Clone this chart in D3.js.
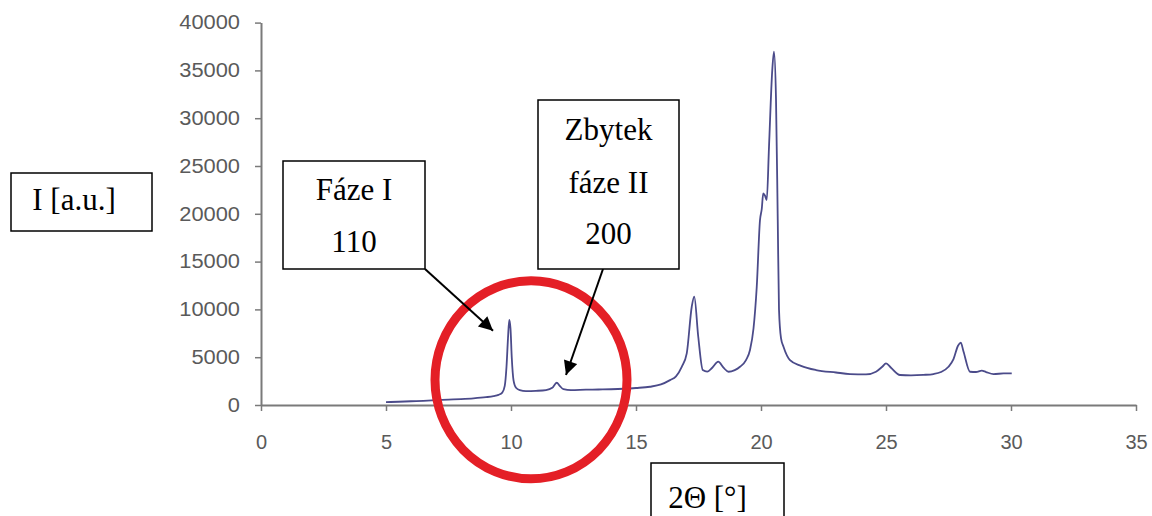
<!DOCTYPE html>
<html>
<head>
<meta charset="utf-8">
<script src="https://cdn.jsdelivr.net/npm/d3@7"></script>
<style>
  html, body { margin: 0; padding: 0; background: #fff; }
  svg { display: block; }
  .tick text { font-family: "Liberation Sans", Arial, sans-serif; fill: #5a5a5a; }
  .note { font-family: "Liberation Serif", "Times New Roman", serif; font-size: 31px; fill: #000; }
</style>
</head>
<body>
<svg id="chart" width="1152" height="516"></svg>
<script>
// Diffraction pattern: 2θ (degrees) and intensity (a.u.)
const twoTheta = [
  5.0, 5.5, 6.0, 6.5, 7.0, 7.5, 8.0, 8.5, 9.0, 9.3, 9.5, 9.65, 9.75, 9.82, 9.88, 9.93, 9.98,
  10.03, 10.1, 10.2, 10.35, 10.6, 11.0, 11.4, 11.65, 11.83, 11.95, 12.1, 12.4, 13.0, 13.5,
  14.0, 14.5, 15.0, 15.56, 16.0, 16.36, 16.6, 16.83, 17.03, 17.23, 17.33, 17.49, 17.67,
  17.85, 18.05, 18.29, 18.5, 18.7, 18.95, 19.16, 19.4, 19.56, 19.7, 19.83, 19.96, 20.03,
  20.09, 20.16, 20.23, 20.32, 20.45, 20.52, 20.6, 20.67, 20.72, 20.8, 20.9, 21.16, 21.6,
  22.2, 23.0, 23.56, 24.2, 24.6, 24.85, 25.0, 25.2, 25.56, 26.0, 26.5, 26.9, 27.2, 27.5,
  27.7, 27.88, 27.99, 28.1, 28.36, 28.6, 28.83, 29.0, 29.3, 29.7, 30.03
];
const intensity = [
  300, 340, 390, 440, 500, 560, 620, 700, 820, 930, 1060, 1300, 2000, 4000, 7000, 8900, 8000,
  5000, 2600, 1800, 1550, 1450, 1480, 1560, 1800, 2330, 2000, 1650, 1550, 1600, 1620,
  1650, 1700, 1780, 1910, 2150, 2600, 3000, 4000, 5400, 10280, 11330, 7140, 3660,
  3500, 3900, 4530, 3900, 3480, 3650, 4000, 4700, 5750, 8000, 12370, 19350, 20500,
  22140, 21900, 21440, 27000, 35000, 36950, 32000, 19350, 10000, 7000, 6100, 4700, 4100,
  3660, 3400, 3240, 3200, 3480, 4000, 4350, 3900, 3140, 3100, 3150, 3240, 3450, 4000,
  4800, 6200, 6520, 5600, 3480, 3450, 3590, 3450, 3240, 3300, 3310
];

const xTicks = [0, 5, 10, 15, 20, 25, 30, 35];
const yTicks = [0, 5000, 10000, 15000, 20000, 25000, 30000, 35000, 40000];

// Note texts, one array of lines per box
const noteLines = [["I [a.u.]"], ["Fáze I", "110"], ["Zbytek", "fáze II", "200"], ["2Θ [°]"]];

const svg = d3.select("#chart");

const x = d3.scaleLinear().domain([0, 35]).range([261, 1136]);
const y = d3.scaleLinear().domain([0, 40000]).range([405, 22.6]);

// Axes
const yAxis = svg.append("g")
  .attr("transform", `translate(${x(0)},0)`)
  .call(d3.axisLeft(y).tickValues(yTicks).tickSize(6).tickSizeOuter(0).tickPadding(15).tickFormat(d3.format("d")));
yAxis.selectAll("text").style("font-size", "19.5px").each(function () {
  const w = this.getComputedTextLength();
  d3.select(this).attr("textLength", w * 1.12).attr("lengthAdjust", "spacingAndGlyphs");
});

const xAxis = svg.append("g")
  .attr("transform", `translate(0,${y(0)})`)
  .call(d3.axisBottom(x).tickValues(xTicks).tickSize(6).tickSizeOuter(0).tickPadding(24).tickFormat(d3.format("d")));
xAxis.selectAll("text").style("font-size", "20px");

svg.selectAll(".domain").attr("stroke", "#7a7a7a").attr("stroke-width", 2);
svg.selectAll(".tick line").attr("stroke", "#7a7a7a").attr("stroke-width", 1.5);

// Pattern line
const line = d3.line().x((d, i) => x(twoTheta[i])).y(d => y(d)).curve(d3.curveMonotoneX);
svg.append("path")
  .datum(intensity)
  .attr("d", line)
  .attr("fill", "none")
  .attr("stroke", "#4b4b8a")
  .attr("stroke-width", 1.8)
  .attr("stroke-linejoin", "round");

// Red circle around the low-angle reflections
svg.append("ellipse")
  .attr("cx", x(10.8)).attr("cy", y(2640))
  .attr("rx", 96).attr("ry", 99)
  .attr("fill", "none")
  .attr("stroke", "#e41f26")
  .attr("stroke-width", 9);

// Arrowhead
svg.append("defs").append("marker")
  .attr("id", "head")
  .attr("viewBox", "0 0 10 10")
  .attr("refX", 10).attr("refY", 5)
  .attr("markerWidth", 8).attr("markerHeight", 7)
  .attr("markerUnits", "strokeWidth")
  .attr("orient", "auto")
  .append("path").attr("d", "M0,0 L10,5 L0,10 Z").attr("fill", "#000");

// Arrows from the notes towards the two reflections (tips in data units)
const arrows = [
  { from: [425, 269], tip: [9.28, 7770] },
  { from: [603, 269], tip: [12.2, 3140] }
];
arrows.forEach(a => {
  svg.append("line")
    .attr("x1", a.from[0]).attr("y1", a.from[1])
    .attr("x2", x(a.tip[0])).attr("y2", y(a.tip[1]))
    .attr("stroke", "#000").attr("stroke-width", 2)
    .attr("marker-end", "url(#head)");
});

// Boxed notes
const boxes = [
  { x0: 11, y0: 173, x1: 152, y1: 231, cx: 74, base: [210] },
  { x0: 283, y0: 161, x1: 425, y1: 269, cx: 354, base: [200, 252] },
  { x0: 538, y0: 100, x1: 679, y1: 269, cx: 608.5, base: [140, 192.5, 244] },
  { x0: 651, y0: 463, x1: 784, y1: 530, cx: 707.5, base: [508] }
];
boxes.forEach((b, i) => {
  svg.append("rect")
    .attr("x", b.x0).attr("y", b.y0)
    .attr("width", b.x1 - b.x0).attr("height", b.y1 - b.y0)
    .attr("fill", "#fff").attr("stroke", "#000").attr("stroke-width", 1.5);
  noteLines[i].forEach((t, j) => {
    svg.append("text")
      .attr("class", "note")
      .attr("x", b.cx).attr("y", b.base[j])
      .attr("text-anchor", "middle")
      .text(t);
  });
});
</script>
</body>
</html>
